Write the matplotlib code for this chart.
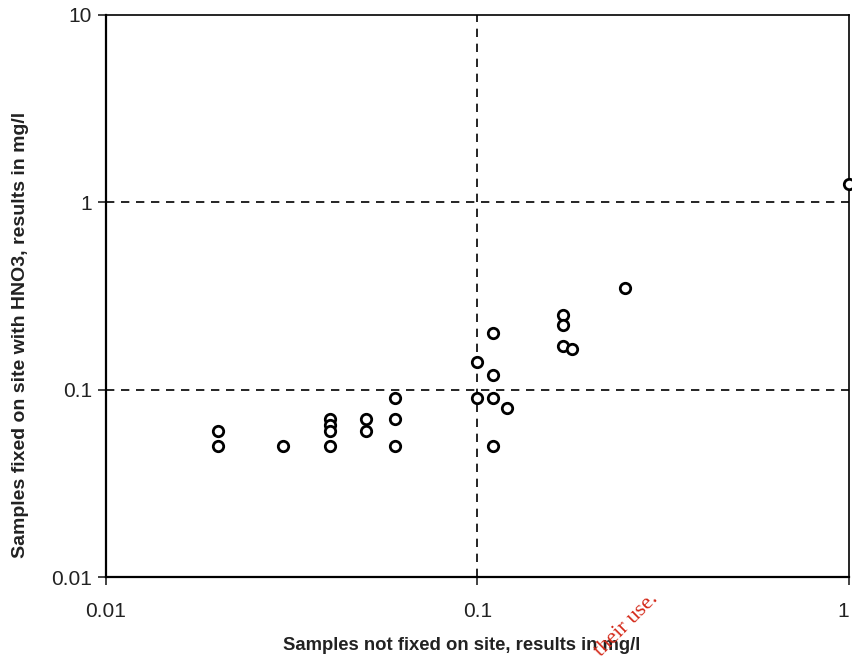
import numpy as np
from matplotlib import pyplot as plt

# unfixed vs HNO3-fixed sample results, mg/l
not_fixed = [0.02, 0.02, 0.03, 0.04, 0.04, 0.04, 0.04, 0.05, 0.05,
             0.06, 0.06, 0.06, 0.1, 0.1, 0.11, 0.11, 0.11, 0.11, 0.12,
             0.17, 0.17, 0.17, 0.18, 0.25, 1.0]
fixed_hno3 = [0.06, 0.05, 0.05, 0.07, 0.065, 0.06, 0.05, 0.07, 0.06,
              0.09, 0.07, 0.05, 0.14, 0.09, 0.2, 0.12, 0.09, 0.05, 0.08,
              0.25, 0.22, 0.17, 0.165, 0.35, 1.25]

x_ticks = [0.01, 0.1, 1]
x_labels = ['0.01', '0.1', '1']
y_ticks = [0.01, 0.1, 1, 10]
y_labels = ['0.01', '0.1', '1', '10']

plt.rcParams['font.family'] = ['Liberation Sans', 'DejaVu Sans']

fig = plt.figure(figsize=(8.52, 6.66), dpi=100)
ax = fig.add_axes([0.1244, 0.1336, 0.872, 0.844])

ax.set_xscale('log')
ax.set_yscale('log')
ax.set_xlim(0.01, 1)
ax.set_ylim(0.01, 10)

# reference lines
dash = dict(color='black', linestyle=(0, (5, 4)), linewidth=1.2, zorder=1)
ax.axvline(0.1, **dash)
ax.axhline(1, **dash)
ax.axhline(0.1, **dash)

ax.plot(not_fixed, fixed_hno3, linestyle='none', marker='o', markersize=7.5,
        markerfacecolor='white', markeredgecolor='black',
        markeredgewidth=2.0, clip_on=False, zorder=3)

ax.set_xticks(x_ticks)
ax.set_xticklabels(x_labels)
ax.set_yticks(y_ticks)
ax.set_yticklabels(y_labels)
ax.minorticks_off()
ax.tick_params(axis='both', direction='out', length=6, width=1.2,
               labelsize=15, colors='#222222')
ax.tick_params(axis='x', pad=12)
ax.tick_params(axis='y', pad=4)
# last x label sits against the right edge
ax.get_xticklabels()[-1].set_horizontalalignment('right')

for side in ['left', 'bottom']:
    ax.spines[side].set_linewidth(1.6)
for side in ['top', 'right']:
    ax.spines[side].set_linewidth(1.2)

fig.text(0.542, 0.031, 'Samples not fixed on site, results in mg/l',
         fontsize=13.3, fontweight='bold', color='#222222',
         ha='center', va='center')
fig.text(0.024, 0.497, 'Samples fixed on site with HNO3, results in mg/l',
         fontsize=14, fontweight='bold', color='#222222', rotation=90,
         ha='center', va='center')

fig.text(0.735, 0.062, 'their use.', color='#d42a1a', fontsize=16,
         family='Liberation Serif', rotation=45, ha='center', va='center')

plt.savefig('out.png', dpi=100)
print('Complete')
